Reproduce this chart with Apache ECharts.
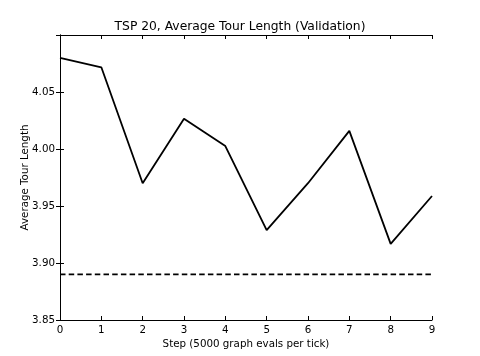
<!DOCTYPE html>
<html><head><meta charset="utf-8">
<script src="https://cdn.jsdelivr.net/npm/echarts@6/dist/echarts.min.js"></script>
<style>html,body{margin:0;padding:0;background:#fff}#c{width:480px;height:356px}</style>
</head><body><div id="c"></div>
<script>
const steps = [0,1,2,3,4,5,6,7,8,9];
const tourLength = [4.080,4.0717,3.970,4.0265,4.0026,3.9289,3.970,4.0159,3.9168,3.9588];
const baseline = 3.890;
const yTicks = [3.85,3.90,3.95,4.00,4.05];

const font = 'DejaVu Sans';
const chart = echarts.init(document.getElementById('c'), null, {renderer:'canvas'});
const axisLine = {show:true, lineStyle:{color:'#000', width:1}};
const tick = {show:true, inside:true, length:4, lineStyle:{color:'#000', width:1}};
chart.setOption({
  animation:false,
  backgroundColor:'#fff',
  title:{text:'TSP 20, Average Tour Length (Validation)', left:'center', top:16,
    textStyle:{fontFamily:font, fontSize:12.3, fontWeight:'normal', color:'#000'}},
  grid:{left:60, right:48, top:35, bottom:36},
  xAxis:[{type:'value', min:0, max:9, interval:1, axisLine, axisTick:tick,
      splitLine:{show:false},
      axisLabel:{fontFamily:font, fontSize:10.3, color:'#000', margin:5},
      name:'Step (5000 graph evals per tick)', nameLocation:'middle', nameGap:19, nameMoveOverlap:false,
      nameTextStyle:{fontFamily:font, fontSize:10.3, color:'#000'}},
    {type:'value', position:'top', min:0, max:9, interval:1, axisLine, axisTick:tick,
      axisLabel:{show:false}, splitLine:{show:false}}],
  yAxis:[{type:'value', min:3.85, max:4.10, interval:0.05, axisLine, axisTick:tick,
      splitLine:{show:false},
      axisLabel:{fontFamily:font, fontSize:10.3, color:'#000', margin:5,
        formatter:v=>{const t=yTicks.find(k=>Math.abs(k-v)<1e-6); return t!==undefined?t.toFixed(2):'';}},
      name:'Average Tour Length', nameLocation:'middle', nameGap:30, nameRotate:90, nameMoveOverlap:false,
      nameTextStyle:{fontFamily:font, fontSize:10.3, color:'#000'}},
    {type:'value', position:'right', min:3.85, max:4.10, interval:0.05, axisLine, axisTick:tick,
      axisLabel:{show:false}, splitLine:{show:false}}],
  series:[
    {type:'line', data:steps.map((s,i)=>[s,tourLength[i]]), showSymbol:false,
      lineStyle:{color:'#000', width:1.8}, z:3},
    {type:'line', data:[[steps[0],baseline],[steps[steps.length-1],baseline]], showSymbol:false,
      lineStyle:{color:'#000', width:1.8, type:[5.5,3.2]}, z:2}
  ]
});
</script></body></html>
